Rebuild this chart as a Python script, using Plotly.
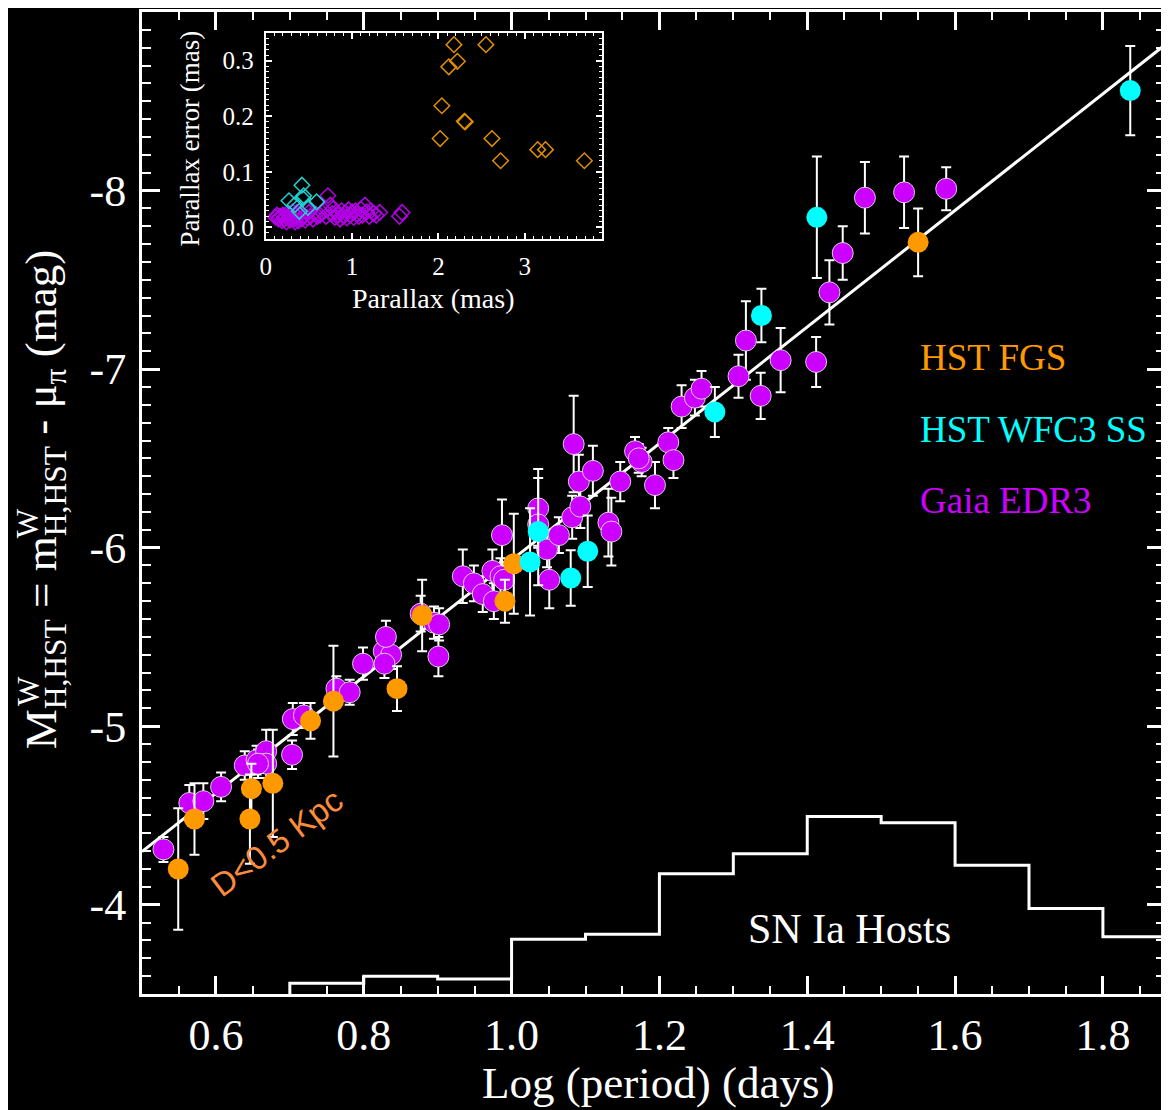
import plotly.graph_objects as go

# ---------------- main panel data ----------------
gaia_logp = [0.529, 0.564, 0.583, 0.607, 0.639, 0.655, 0.668, 0.668, 0.657, 0.703,
             0.704, 0.719, 0.763, 0.781, 0.799, 0.827, 0.837, 0.828, 0.830, 0.877,
             0.895, 0.902, 0.901, 0.934, 0.949, 0.961, 0.976, 0.974, 0.985, 0.990,
             0.987, 1.036, 1.036, 1.048, 1.064, 1.051, 1.082, 1.093, 1.091, 1.110,
             1.084, 1.131, 1.135, 1.147, 1.167, 1.176, 1.172, 1.194, 1.212, 1.219,
             1.230, 1.248, 1.257, 1.307, 1.317, 1.337, 1.364, 1.412, 1.430, 1.448,
             1.478, 1.531, 1.588]
gaia_mag = [-4.31, -4.57, -4.58, -4.66, -4.78, -4.81, -4.86, -4.79, -4.79, -4.84,
            -5.04, -5.06, -5.21, -5.19, -5.35, -5.42, -5.40, -5.35, -5.50, -5.63,
            -5.58, -5.57, -5.39, -5.84, -5.80, -5.74, -5.70, -5.87, -5.84, -5.82,
            -6.07, -6.22, -6.13, -5.99, -6.07, -5.82, -6.17, -6.23, -6.37, -6.43,
            -6.58, -6.14, -6.09, -6.37, -6.54, -6.48, -6.50, -6.35, -6.59, -6.49,
            -6.79, -6.84, -6.89, -6.96, -7.16, -6.85, -7.05, -7.04, -7.43, -7.65,
            -7.96, -7.99, -8.01]
gaia_err = [0.07, 0.10, 0.10, 0.08, 0.08, 0.08, 0.12, 0.08, 0.08, 0.08,
            0.09, 0.07, 0.07, 0.07, 0.09, 0.08, 0.08, 0.08, 0.09, 0.10,
            0.09, 0.09, 0.11, 0.15, 0.10, 0.10, 0.10, 0.12, 0.10, 0.10,
            0.20, 0.22, 0.12, 0.10, 0.10, 0.16, 0.12, 0.12, 0.15, 0.14,
            0.27, 0.19, 0.19, 0.11, 0.08, 0.08, 0.08, 0.13, 0.08, 0.10,
            0.12, 0.10, 0.10, 0.12, 0.22, 0.13, 0.18, 0.14, 0.18, 0.15,
            0.20, 0.20, 0.12]

fgs_logp = [0.549, 0.571, 0.648, 0.646, 0.677, 0.728, 0.759, 0.845, 0.879, 0.991, 1.003, 1.550]
fgs_mag = [-4.20, -4.48, -4.65, -4.48, -4.68, -5.03, -5.14, -5.21, -5.62, -5.70, -5.91, -7.71]
fgs_err = [0.34, 0.20, 0.14, 0.25, 0.30, 0.10, 0.31, 0.125, 0.20, 0.12, 0.28, 0.19]

wfc3_logp = [1.025, 1.036, 1.080, 1.103, 1.275, 1.338, 1.413, 1.837]
wfc3_mag = [-5.92, -6.09, -5.83, -5.98, -6.76, -7.30, -7.85, -8.56]
wfc3_err = [0.30, 0.30, 0.155, 0.20, 0.14, 0.15, 0.34, 0.25]

# P-L fit (zero point at logP=1, slope)
fit_zp = -5.93
fit_slope = -3.265

# SN Ia host Cepheid period histogram (bin edges in logP, relative heights in mag units)
hist_edges = [0.7, 0.8, 0.9, 1.0, 1.1, 1.2, 1.3, 1.4, 1.5, 1.6, 1.7, 1.8, 1.9]
hist_heights = [0.06, 0.10, 0.084, 0.307, 0.335, 0.674, 0.786, 0.994, 0.959, 0.721, 0.479, 0.32]

x_ticks = [0.6, 0.8, 1.0, 1.2, 1.4, 1.6, 1.8]
x_ticktext = ["0.6", "0.8", "1.0", "1.2", "1.4", "1.6", "1.8"]
y_ticks = [-9, -8, -7, -6, -5, -4]
y_ticktext = ["-9", "-8", "-7", "-6", "-5", "-4"]

# ---------------- inset data ----------------
gaia_plx = [0.12, 0.15, 0.17, 0.19, 0.20, 0.22, 0.24, 0.25, 0.27, 0.28, 0.30, 0.31, 0.33, 0.34,
            0.35, 0.37, 0.38, 0.40, 0.42, 0.44, 0.46, 0.48, 0.50, 0.52, 0.55, 0.58, 0.60,
            0.68, 0.72, 0.75, 0.77, 0.78, 0.80, 0.82, 0.84, 0.86, 0.88, 0.90, 0.92, 0.94,
            0.96, 0.98, 1.00, 1.02, 1.04, 1.06, 1.08, 1.10, 1.12, 1.15, 1.17, 1.20, 1.22,
            1.25, 1.28, 1.32, 1.55, 1.58, 0.13, 0.23, 0.36, 0.63, 0.70]
gaia_plx_err = [0.018, 0.015, 0.020, 0.012, 0.022, 0.016, 0.010, 0.025, 0.018, 0.013, 0.020, 0.028,
                0.015, 0.010, 0.022, 0.018, 0.012, 0.025, 0.016, 0.020, 0.013, 0.018, 0.027, 0.020,
                0.015, 0.024, 0.020, 0.030, 0.057, 0.040, 0.025, 0.033, 0.018, 0.028, 0.022, 0.015,
                0.030, 0.020, 0.026, 0.017, 0.032, 0.022, 0.028, 0.018, 0.030, 0.024, 0.020, 0.033,
                0.022, 0.040, 0.028, 0.020, 0.030, 0.025, 0.022, 0.027, 0.020, 0.027, 0.022, 0.020,
                0.027, 0.022, 0.020]
wfc3_plx = [0.27, 0.42, 0.44, 0.39, 0.59, 0.49, 0.34, 0.43]
wfc3_plx_err = [0.048, 0.076, 0.057, 0.029, 0.046, 0.036, 0.041, 0.052]
fgs_plx = [2.18, 2.55, 2.12, 2.22, 2.04, 2.30, 2.31, 2.02, 2.62, 2.72, 3.15, 3.24, 3.69]
fgs_plx_err = [0.329, 0.329, 0.289, 0.299, 0.219, 0.191, 0.190, 0.160, 0.160, 0.120, 0.140, 0.140, 0.120]

ORANGE = "#ff9900"
CYAN = "#00ffff"
MAGENTA = "#cc00ff"
SERIF = "Liberation Serif, Times New Roman, serif"

X_RANGE = [0.5, 1.884]
Y_RANGE = [-3.5, -9.0]

# page geometry (the html body adds an 8px offset)
OFF = 8
W_FIG, H_FIG = 1169 - OFF, 1110 - OFF
PL, PR, PT, PB = 142, 1168, 10, 994     # plot area in page pixels


def px(x):
    return (x - PL) / (PR - PL)


def py(y):
    return (PB - y) / (PB - PT)


fig = go.Figure()

fit_x = X_RANGE
fit_y = [fit_zp + fit_slope * (v - 1.0) for v in fit_x]
fig.add_trace(go.Scatter(x=fit_x, y=fit_y, mode="lines",
                         line=dict(color="white", width=3), showlegend=False, hoverinfo="skip"))

hx = [hist_edges[0]] + hist_edges
hy = [Y_RANGE[0]] + [Y_RANGE[0] - h for h in hist_heights] + [Y_RANGE[0] - hist_heights[-1]]
fig.add_trace(go.Scatter(x=hx, y=hy, mode="lines", line=dict(color="white", width=3, shape="hv"),
                         showlegend=False, hoverinfo="skip"))

errstyle = dict(type="data", color="white", thickness=2, width=5)

fig.add_trace(go.Scatter(x=gaia_logp, y=gaia_mag, mode="markers",
                         error_y=dict(array=gaia_err, **errstyle),
                         marker=dict(size=21, color=MAGENTA, line=dict(color="rgba(235,235,235,0.85)", width=1)),
                         showlegend=False))
fig.add_trace(go.Scatter(x=fgs_logp, y=fgs_mag, mode="markers",
                         error_y=dict(array=fgs_err, **errstyle),
                         marker=dict(size=21, color=ORANGE, line=dict(width=0)),
                         showlegend=False))
fig.add_trace(go.Scatter(x=wfc3_logp, y=wfc3_mag, mode="markers",
                         error_y=dict(array=wfc3_err, **errstyle),
                         marker=dict(size=21, color=CYAN, line=dict(width=0)),
                         showlegend=False))

fig.add_trace(go.Scatter(x=gaia_plx, y=gaia_plx_err, mode="markers", xaxis="x2", yaxis="y2",
                         marker=dict(symbol="diamond-open", size=12, color="#b400e6", line=dict(width=1.5)),
                         showlegend=False))
fig.add_trace(go.Scatter(x=wfc3_plx, y=wfc3_plx_err, mode="markers", xaxis="x2", yaxis="y2",
                         marker=dict(symbol="diamond-open", size=12, color="#20d0d0", line=dict(width=1.5)),
                         showlegend=False))
fig.add_trace(go.Scatter(x=fgs_plx, y=fgs_plx_err, mode="markers", xaxis="x2", yaxis="y2",
                         marker=dict(symbol="diamond-open", size=12, color="#e08e00", line=dict(width=1.5)),
                         showlegend=False))

main_axis = dict(showline=True, linecolor="white", linewidth=3, mirror="allticks",
                 ticks="inside", tickcolor="white", tickwidth=2.5, showgrid=False, zeroline=False,
                 tickfont=dict(family=SERIF, size=44, color="white"))

inset_axis = dict(showline=True, linecolor="white", linewidth=2, mirror="allticks",
                  ticks="inside", ticklen=6, tickwidth=2, tickcolor="white",
                  showgrid=False, zeroline=False,
                  tickfont=dict(family=SERIF, size=25, color="white"))

fig.update_layout(
    width=W_FIG, height=H_FIG,
    margin=dict(l=PL - OFF, r=W_FIG - (PR - OFF), t=PT - OFF, b=H_FIG - (PB - OFF)),
    paper_bgcolor="black", plot_bgcolor="black",
    xaxis=dict(range=X_RANGE, tickvals=x_ticks, ticktext=x_ticktext, ticklen=18,
               minor=dict(dtick=0.05, tick0=0.5, ticklen=8, tickwidth=2, tickcolor="white", ticks="inside"),
               **main_axis),
    yaxis=dict(range=Y_RANGE, tickvals=y_ticks, ticktext=y_ticktext, ticklen=18, ticklabelstandoff=4,
               minor=dict(dtick=0.1, tick0=-9, ticklen=9, tickwidth=2, tickcolor="white", ticks="inside"),
               **main_axis),
    xaxis2=dict(domain=[px(266), px(603)], anchor="y2", range=[0, 3.89],
                tickvals=[0, 1, 2, 3], ticktext=["0", "1", "2", "3"], ticklabelstandoff=4,
                minor=dict(dtick=0.1, ticklen=3, tickwidth=1, tickcolor="white", ticks="inside"),
                **inset_axis),
    yaxis2=dict(domain=[py(237), py(31)], anchor="x2", range=[-0.02, 0.35],
                tickvals=[0.0, 0.1, 0.2, 0.3], ticktext=["0.0", "0.1", "0.2", "0.3"], ticklabelstandoff=5,
                minor=dict(dtick=0.01, ticklen=3, tickwidth=1, tickcolor="white", ticks="inside"),
                **inset_axis),
)


def note(text, x, y, size, color="white", family=SERIF, angle=0, xanchor="center"):
    return dict(text=text, xref="paper", yref="paper", x=px(x), y=py(y), textangle=angle,
                xanchor=xanchor, yanchor="middle", showarrow=False,
                font=dict(family=family, size=size, color=color))


ann = [
    note("Log (period) (days)", 660, 1083, 45),
    note("M<sub>H,HST</sub> = m<sub>H,HST</sub> - μ<sub>π</sub> (mag)", 44, 499, 45, angle=-90),
    note("W", 28, 690, 31, angle=-90),
    note("W", 28, 522, 31, angle=-90),
    note("Parallax (mas)", 434.5, 297, 28),
    note("Parallax error (mas)", 190, 137, 27, angle=-90),
    note("HST FGS", 920, 356, 37, color=ORANGE, xanchor="left"),
    note("HST WFC3 SS", 920, 428, 37, color=CYAN, xanchor="left"),
    note("Gaia EDR3", 920, 499, 37, color=MAGENTA, xanchor="left"),
    note("SN Ia Hosts", 852, 929, 42),
    note("D<0.5 Kpc", 277, 842, 33, color="#fa8c3c",
         family="Liberation Sans, Arial, sans-serif", angle=-37),
]
fig.update_layout(annotations=ann)

fig.write_html("out.html")
